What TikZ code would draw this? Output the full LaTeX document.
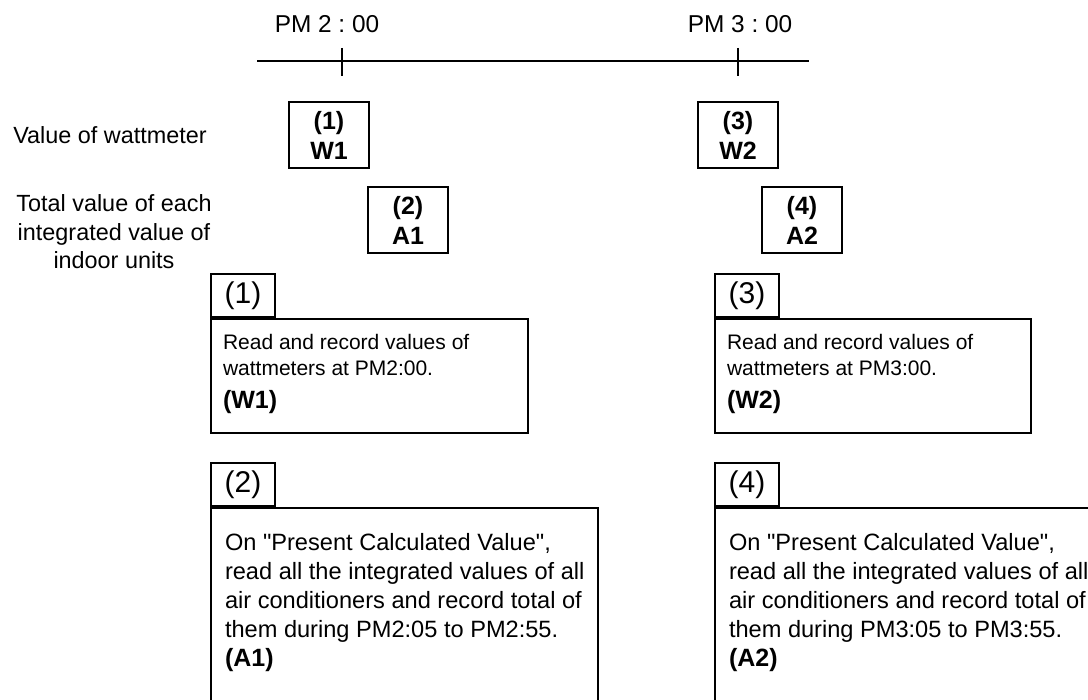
\documentclass[tikz,border=0pt]{standalone}
\usepackage{fontspec}
\setmainfont{Liberation Sans}
\frenchspacing
\begin{document}
\begin{tikzpicture}[
  x=0.5pt,y=-0.5pt,
  line width=1pt,
  every node/.style={inner sep=0pt},
  timelbl/.style={font=\fontsize{12.2}{14}\selectfont},
  rowlbl/.style={font=\fontsize{11.7}{14.25}\selectfont,align=center},
  valbox/.style={draw,minimum width=40pt,minimum height=33pt,align=center,font=\fontsize{12.5}{15}\selectfont\bfseries},
  tab/.style={draw,minimum width=32pt,minimum height=21.5pt,anchor=south west,font=\fontsize{15}{18}\selectfont},
  notebox/.style={draw,anchor=north west},
  smalltxt/.style={anchor=north west,align=left,font=\fontsize{10.5}{13}\selectfont},
  bigtxt/.style={anchor=north west,align=left,font=\fontsize{11.8}{14.5}\selectfont}
]
\useasboundingbox (0,0) rectangle (1088,700);
\clip (0,0) rectangle (1088,700);
% time line
\coordinate (tl) at (257,61);
\coordinate (tr) at (809,61);
\coordinate (p2) at (342,61);
\coordinate (p3) at (738,61);
\draw (tl) -- (tr);
\draw ([yshift=6.5pt]p2) -- ([yshift=-7.5pt]p2);
\draw ([yshift=6.5pt]p3) -- ([yshift=-7.5pt]p3);
\node[timelbl] (pm2) at (327,24) {PM 2 : 00};
\node[timelbl] (pm3) at (740,24) {PM 3 : 00};
% row labels
\node[rowlbl] (lblw) at (110,135) {Value of wattmeter};
\node[rowlbl] (lbla) at (114,232) {Total value of each\\integrated value of\\indoor units};
% readings
\node[valbox] (w1) at (329,135.5) {(1)\\W1};
\node[valbox] (a1) at (408,220) {(2)\\A1};
\node[valbox] (w2) at (738,135) {(3)\\W2};
\node[valbox] (a2) at (802,220) {(4)\\A2};
% notes
\node[notebox,minimum width=158.5pt,minimum height=57pt] (rec1) at (210,318) {};
\node[tab] (tab1) at (rec1.north west) {(1)};
\node[smalltxt] (txt1) at ([xshift=6pt,yshift=-7.8pt]rec1.north west)
  {Read and record values of\\wattmeters at PM2:00.\\[3.5pt]{\fontsize{12.5}{15}\selectfont\bfseries (W1)}};
\node[notebox,minimum width=158pt,minimum height=57pt] (rec3) at (714,318) {};
\node[tab] (tab3) at (rec3.north west) {(3)};
\node[smalltxt] (txt3) at ([xshift=6pt,yshift=-7.8pt]rec3.north west)
  {Read and record values of\\wattmeters at PM3:00.\\[3.5pt]{\fontsize{12.5}{15}\selectfont\bfseries (W2)}};
\node[notebox,minimum width=193.5pt,minimum height=120pt] (rec2) at (210,507) {};
\node[tab] (tab2) at (rec2.north west) {(2)};
\node[bigtxt] (txt2) at ([xshift=7pt,yshift=-12.9pt]rec2.north west)
  {On \textquotedbl Present Calculated Value\textquotedbl,\\read all the integrated values of all\\air conditioners and record total of\\them during PM2:05 to PM2:55.\\{\fontsize{12.5}{15}\selectfont\bfseries (A1)}};
\node[notebox,minimum width=200pt,minimum height=120pt] (rec4) at (714,507) {};
\node[tab] (tab4) at (rec4.north west) {(4)};
\node[bigtxt] (txt4) at ([xshift=7pt,yshift=-12.9pt]rec4.north west)
  {On \textquotedbl Present Calculated Value\textquotedbl,\\read all the integrated values of all\\air conditioners and record total of\\them during PM3:05 to PM3:55.\\{\fontsize{12.5}{15}\selectfont\bfseries (A2)}};
\end{tikzpicture}
\end{document}
